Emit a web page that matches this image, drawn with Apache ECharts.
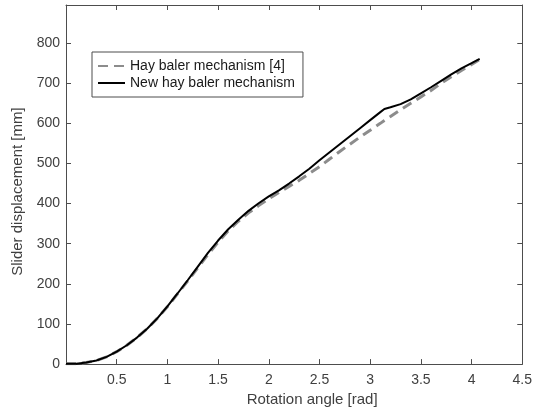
<!DOCTYPE html>
<html>
<head>
<meta charset="utf-8">
<script src="https://cdn.jsdelivr.net/npm/echarts@6/dist/echarts.min.js"></script>
<style>
html,body{margin:0;padding:0;background:#fff;}
#chart{width:535px;height:412px;}
</style>
</head>
<body>
<div id="chart"></div>
<script>
// Rotation angle [rad]
const angles = [0, 0.1, 0.2, 0.3, 0.4, 0.5, 0.6, 0.7, 0.8, 0.9, 1.0, 1.1, 1.2, 1.3, 1.4, 1.5, 1.6, 1.7, 1.8, 1.9, 2.0, 2.1, 2.2, 2.3, 2.4, 2.5, 2.6, 2.7, 2.8, 2.9, 3.0, 3.1, 3.14, 3.2, 3.3, 3.4, 3.5, 3.6, 3.7, 3.8, 3.9, 4.0, 4.08];
// Hay baler mechanism [4] (dashed grey)
const hayBaler = [1, 1, 4, 9, 18, 31, 47, 66, 88, 114, 143, 175, 207, 240, 273, 304, 332, 356, 377, 395, 412, 428, 443, 458, 475, 492, 511, 530, 548, 566, 583, 600, 607, 617, 634, 650, 666, 682, 700, 716, 732, 747, 759];
// New hay baler mechanism (solid black)
const newHayBaler = [1, 1, 4, 9, 18, 31, 47, 66, 88, 114, 144, 176, 209, 243, 277, 308, 336, 360, 382, 401, 418, 433, 450, 468, 487, 508, 528, 548, 568, 588, 608, 628, 636, 640, 648, 660, 675, 690, 706, 722, 737, 750, 761];

const xTicks = {min: 0, max: 4.5, interval: 0.5};
const yTicks = {min: 0, max: 895, interval: 100};

const font = 'Liberation Sans, Arial, Helvetica, sans-serif';
const axisCol = '#4d4d4d';
const textCol = '#404040';

function pairs(xs, ys){ return xs.map((x,i)=>[x, ys[i]]); }

const chart = echarts.init(document.getElementById('chart'), null, {renderer:'canvas'});

const baseX = {
  type:'value', min:xTicks.min, max:xTicks.max, interval:xTicks.interval,
  axisLine:{show:true, onZero:false, lineStyle:{color:axisCol, width:1}},
  axisTick:{show:true, inside:true, length:5, lineStyle:{color:axisCol}},
  splitLine:{show:false}
};
const baseY = {
  type:'value', min:yTicks.min, max:yTicks.max, interval:yTicks.interval,
  axisLine:{show:true, onZero:false, lineStyle:{color:axisCol, width:1}},
  axisTick:{show:true, inside:true, length:5, lineStyle:{color:axisCol}},
  splitLine:{show:false}
};

chart.setOption({
  animation:false,
  backgroundColor:'#fff',
  grid:{left:66, right:11, top:5, bottom:46, containLabel:false},
  legend:{
    orient:'vertical', left:92, top:52,
    padding:[7,8,7,5], itemGap:3, itemWidth:27, itemHeight:14,
    borderColor:axisCol, borderWidth:1, backgroundColor:'#fff',
    itemStyle:{opacity:0},
    textStyle:{fontSize:14, color:'#1a1a1a', fontFamily:font},
    data:['Hay baler mechanism [4]','New hay baler mechanism']
  },
  xAxis:[
    Object.assign({}, baseX, {
      position:'bottom',
      name:'Rotation angle [rad]', nameLocation:'middle', nameGap:27,
      nameTextStyle:{fontSize:15, color:textCol, fontFamily:font, padding:[0,0,0,36]},
      axisLabel:{show:true, margin:9, fontSize:14, color:textCol, fontFamily:font, showMinLabel:false}
    }),
    Object.assign({}, baseX, {position:'top', axisLabel:{show:false}})
  ],
  yAxis:[
    Object.assign({}, baseY, {
      position:'left',
      name:'Slider displacement [mm]', nameLocation:'middle', nameGap:40, nameRotate:90,
      nameTextStyle:{fontSize:15, color:textCol, fontFamily:font, padding:[0,14,0,0]},
      axisLabel:{show:true, margin:6, fontSize:14, color:textCol, fontFamily:font, showMaxLabel:false}
    }),
    Object.assign({}, baseY, {position:'right', axisLabel:{show:false}})
  ],
  series:[
    {
      name:'Hay baler mechanism [4]', type:'line', xAxisIndex:0, yAxisIndex:0,
      data:pairs(angles, hayBaler), showSymbol:false, symbol:'none',
      lineStyle:{color:'#8c8c8c', width:3, type:[10,6]},
      itemStyle:{color:'#8c8c8c'}
    },
    {
      name:'New hay baler mechanism', type:'line', xAxisIndex:0, yAxisIndex:0,
      data:pairs(angles, newHayBaler), showSymbol:false, symbol:'none',
      lineStyle:{color:'#000', width:2},
      itemStyle:{color:'#000'}
    }
  ]
});
</script>
</body>
</html>
